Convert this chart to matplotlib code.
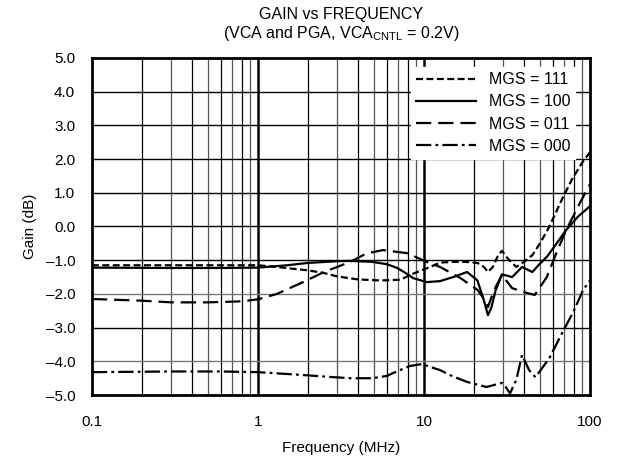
import numpy as np
import matplotlib
matplotlib.use("Agg")
import matplotlib.pyplot as plt

plt.rcParams['font.family'] = ['Liberation Sans', 'DejaVu Sans']
plt.rcParams['mathtext.fontset'] = 'custom'
plt.rcParams['mathtext.rm'] = 'Liberation Sans'
plt.rcParams['lines.scale_dashes'] = False

# MGS = 111 (short dash)
f_111 = [0.1, 0.2, 0.5, 1.0, 1.3, 1.6, 2.0, 2.5, 3.0, 4.0, 5.5, 7.2, 8.6, 10.9, 12.5,
         15, 18, 21, 23, 24.3, 26, 28, 29.5, 32, 36, 40, 45, 50, 57, 67, 78, 90, 100]
g_111 = [-1.15, -1.15, -1.15, -1.15, -1.2, -1.25, -1.3, -1.38, -1.48, -1.57, -1.6, -1.58, -1.4, -1.2, -1.07,
         -1.05, -1.05, -1.08, -1.2, -1.35, -1.2, -0.85, -0.72, -0.95, -1.2, -1.05, -0.85, -0.5, 0.0, 0.75, 1.4, 1.9, 2.2]

# MGS = 100 (solid)
f_100 = [0.1, 0.3, 0.6, 1.0, 1.5, 2.0, 3.0, 3.6, 4.9, 6.0, 6.9, 8.0, 8.6, 10.4, 12.5, 15,
         18.2, 21, 23, 24.3, 25.5, 27, 29.5, 34, 39, 45, 50, 55, 62, 72, 85, 100]
g_100 = [-1.22, -1.23, -1.23, -1.22, -1.15, -1.08, -1.03, -1.02, -1.05, -1.12, -1.23, -1.42, -1.53, -1.65, -1.62, -1.5,
         -1.35, -1.6, -2.2, -2.63, -2.4, -1.9, -1.42, -1.5, -1.2, -1.35, -1.1, -0.9, -0.55, -0.1, 0.3, 0.6]

# MGS = 011 (long dash)
f_011 = [0.1, 0.2, 0.3, 0.5, 0.8, 1.0, 1.3, 1.87, 2.5, 3.6, 4.5, 5.65, 7.9, 10.4, 12.5, 16.6,
         21, 23, 24.3, 25.5, 27, 29.5, 34, 41.6, 46.5, 55, 62, 72, 87, 100]
g_011 = [-2.15, -2.2, -2.25, -2.25, -2.22, -2.16, -2.0, -1.65, -1.35, -1.05, -0.8, -0.7, -0.79, -1.05, -1.2, -1.53,
         -1.88, -2.15, -2.39, -2.1, -1.8, -1.44, -1.83, -1.97, -2.03, -1.5, -0.85, -0.1, 0.7, 1.25]

# MGS = 000 (dash-dot)
f_000 = [0.1, 0.3, 0.6, 1.0, 1.8, 2.5, 3.6, 4.9, 6.0, 6.5, 8.2, 9.7, 12.5, 15, 18.2, 23.8,
         29.5, 31, 33, 36, 39, 43, 47, 57, 68, 80, 91, 100]
g_000 = [-4.32, -4.3, -4.3, -4.32, -4.4, -4.45, -4.5, -4.5, -4.43, -4.35, -4.14, -4.08, -4.26, -4.45, -4.61, -4.76,
         -4.64, -4.75, -4.95, -4.55, -3.81, -4.26, -4.47, -3.9, -3.16, -2.5, -1.88, -1.6]

fig = plt.figure(figsize=(6.21, 4.67), dpi=100)
ax = fig.add_axes([0.148, 0.154, 0.802, 0.722])
ax.set_xscale('log')
ax.set_xlim(0.1, 100)
ax.set_ylim(-5, 5)

# grid
for dec in [0.1, 1, 10]:
    for m in range(2, 10):
        ax.axvline(dec * m, color='#555555' if m % 2 else 'black', lw=0.9, zorder=1)
for v in [1, 10]:
    ax.axvline(v, color='black', lw=1.8, zorder=1)
for y in range(-4, 5):
    ax.axhline(y, color='#777777' if y in (-2, -4) else 'black', lw=1.0, zorder=1)

ax.plot(f_111, g_111, color='black', lw=1.6, dashes=(5, 2.5), label='MGS = 111', zorder=3)
ax.plot(f_100, g_100, color='black', lw=1.6, label='MGS = 100', zorder=3)
ax.plot(f_011, g_011, color='black', lw=1.6, dashes=(11, 5), label='MGS = 011', zorder=3)
ax.plot(f_000, g_000, color='black', lw=1.6, dashes=(11, 3, 2, 3), label='MGS = 000', zorder=3)

ax.set_xticks([0.1, 1, 10, 100])
ax.set_xticklabels(['0.1', '1', '10', '100'])
ax.set_xticks([], minor=True)
ax.set_yticks(np.arange(-5, 5.1, 1))
ax.set_yticklabels(['%.1f' % v if v >= 0 else '\u2013%.1f' % -v for v in np.arange(-5, 5.1, 1)])
ax.tick_params(length=0, labelsize=11)
ax.tick_params(axis='x', pad=14)
ax.tick_params(axis='y', pad=12)
for s in ax.spines.values():
    s.set_linewidth(2)

ax.set_xlabel('Frequency (MHz)', fontsize=11, labelpad=9)
ax.set_ylabel('Gain (dB)', fontsize=11, labelpad=6)
ax.set_title('GAIN vs FREQUENCY\n(VCA and PGA, VCA$_{\\mathregular{CNTL}}$ = 0.2V)', fontsize=11.5, pad=14)

leg = ax.legend(loc='upper right', bbox_to_anchor=(0.99, 1.0), fontsize=11.5, frameon=True,
                fancybox=False, edgecolor='white', framealpha=1, handlelength=3.8,
                labelspacing=0.45, borderaxespad=0.6, handletextpad=0.8, borderpad=0.3)
leg.set_zorder(5)

fig.savefig('out.png', dpi=100)
